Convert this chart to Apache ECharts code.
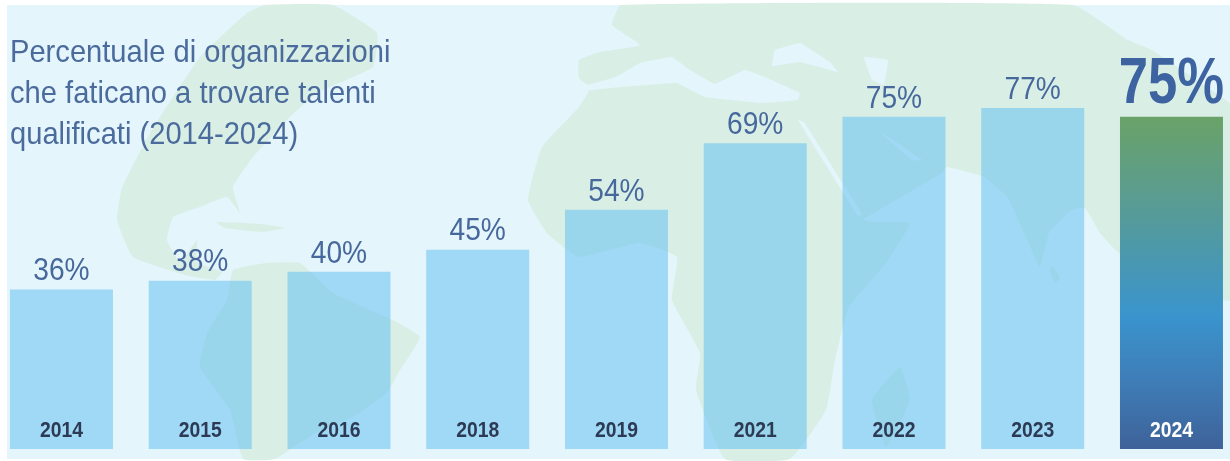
<!DOCTYPE html>
<html><head><meta charset="utf-8">
<style>html,body{margin:0;padding:0;background:#fff}#c{width:1230px;height:461px}</style>
<script src="https://cdn.jsdelivr.net/npm/echarts@6/dist/echarts.min.js"></script></head>
<body><div id="c"></div>
<script>
const categories = ['2014','2015','2016','2018','2019','2021','2022','2023','2024'];
const percentValues = [36,38,40,45,54,69,75,77,75];
const titleLines = ['Percentuale di organizzazioni','che faticano a trovare talenti','qualificati (2014-2024)'];

const BG='#e5f5fc', LAND='#d9efe6', INK='#47689c', FONT='"Liberation Sans"';
const land=[
 // Africa + Eurasia
 [[621,5],[1073,5],[1128,40],[1152,50],[1226,100],[1230,104],[1230,300],[1119,253],[1100,233],[1085,208],[1072,210],[1049,233],[1040,267],[1025,235],[1007,197],[984,177],[947,167],[942,173],[905,195],[863,220],[875,222],[910,223],[886,263],[849,307],[835,360],[826,410],[790,459],[725,459],[696,390],[700,353],[672,300],[677,257],[640,243],[579,257],[547,233],[528,200],[542,147],[579,107],[590,88],[579,78],[579,60],[600,52],[640,45],[612,25]],
 // Madagascar
 [[900,367],[910,400],[886,447],[872,400]],
 // Sri Lanka
 [[1052,265],[1060,278],[1055,283],[1050,272]],
 // North America
 [[247,13],[265,5],[333,5],[377,33],[373,67],[317,93],[290,117],[253,157],[233,187],[240,213],[227,197],[200,207],[173,217],[167,240],[180,262],[197,240],[197,262],[222,272],[215,280],[185,275],[133,257],[117,220],[122,188],[150,133],[200,57]],
 // South America
 [[233,270],[267,263],[300,263],[333,293],[393,320],[420,337],[400,370],[387,393],[353,417],[320,430],[275,459],[243,459],[230,410],[200,367],[207,333],[227,300]],
 // Caribbean
 [[216,222],[262,224],[285,228],[262,232],[225,228]]
];
const seas=[
 // Mediterranean
 [[581,87],[616,77],[640,63],[672,57],[690,70],[715,84],[745,70],[765,77],[800,93],[798,100],[761,103],[705,97],[677,83],[621,87],[590,90]],
 // Black Sea
 [[775,50],[800,43],[830,62],[838,72],[800,62],[772,66]],
 // Caspian
 [[864,57],[888,60],[884,85],[872,80]],
 // Red Sea
 [[798,120],[804,122],[862,214],[858,216]],
 // Persian Gulf
 [[880,132],[890,138],[922,160],[912,160]]
];
const poly=(pts,fill,s)=>({type:'polygon',silent:true,shape:{points:pts,smooth:s},style:{fill}});

const chart=echarts.init(document.getElementById('c'),null,{renderer:'canvas'});
chart.setOption({
 animation:false,
 backgroundColor:'#fff',
 graphic:{elements:[
  {type:'rect',z:-10,silent:true,shape:{x:7,y:5,width:1223,height:454},style:{fill:BG}},
  {type:'group',z:-9,silent:true,children:[...land.map(p=>poly(p,LAND,0.12)),...seas.map(p=>poly(p,BG,0.05))]},
  ...titleLines.map((t,i)=>({type:'text',z:50,x:10,y:37+i*41,scaleX:0.91,style:{text:t,font:'32px '+FONT,fill:'#4a6b9c'}}))
 ]},
 grid:{left:-7.9,top:6,width:1248.75,height:443,containLabel:false,outerBoundsMode:'none'},
 xAxis:{type:'category',data:categories,axisLine:{show:false},axisTick:{show:false},axisLabel:{show:false}},
 yAxis:{type:'value',min:0,max:100,show:false,splitLine:{show:false}},
 series:[{type:'bar',barWidth:103,
  data:percentValues.map((v,i)=>i===8?{value:v,
    itemStyle:{color:new echarts.graphic.LinearGradient(0,0,0,1,[
      {offset:0,color:'#6aa268'},{offset:.3,color:'#569b9a'},{offset:.6,color:'#3a94cd'},{offset:.8,color:'#3f7cb6'},{offset:1,color:'#3e6299'}])}}:{value:v}),
  itemStyle:{color:'rgba(92,190,240,0.5)'}
 },{type:'custom',z:20,silent:true,clip:false,
  data:percentValues.map((v,i)=>[i,v]),
  renderItem(params,api){
   const i=api.value(0),v=api.value(1),top=api.coord([i,v]),base=api.coord([i,0]),big=i===8;
   return {type:'group',children:[
    {type:'text',x:top[0],y:top[1]+(big?1:-2),scaleX:big?0.81:0.88,
     style:{text:v+'%',font:(big?'bold 65px ':'32px ')+FONT,fill:big?'#3d64a0':INK,align:'center',verticalAlign:'bottom'}},
    {type:'text',x:base[0],y:base[1]-18,scaleX:0.88,
     style:{text:categories[i],font:'bold 22px '+FONT,fill:big?'#ffffff':'#2c3a54',align:'center',verticalAlign:'middle'}}
   ]};
  }
 }]
});
</script></body></html>
